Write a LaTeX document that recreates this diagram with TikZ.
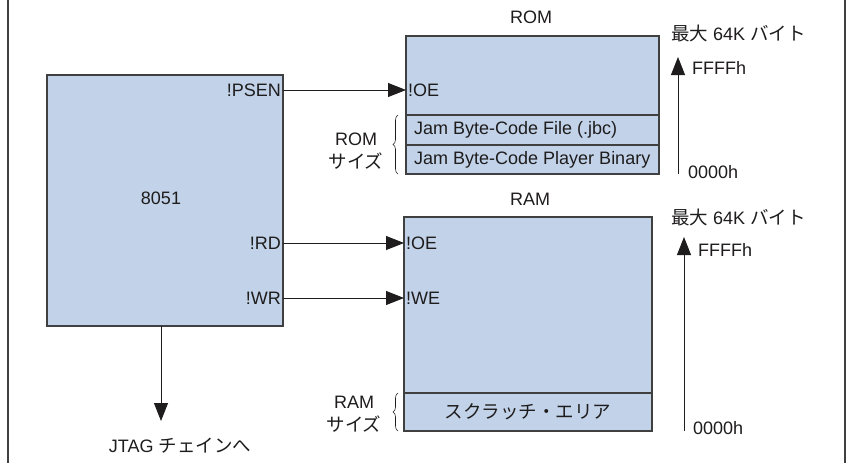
\documentclass[tikz,border=0pt]{standalone}
\usepackage{fontspec}
\setmainfont{Liberation Sans}
\newfontfamily\jp{Noto Sans CJK JP}
\usetikzlibrary{arrows.meta, decorations.pathreplacing}

\definecolor{memfill}{RGB}{194,211,233}
\definecolor{edgegray}{RGB}{64,64,64}
\definecolor{inkgray}{RGB}{30,28,28}

\newcommand{\jtxt}[1]{{\jp\fontsize{18.5pt}{24pt}\selectfont #1}}

\begin{document}
\begin{tikzpicture}[x=1pt, y=-1pt, font=\fontsize{18pt}{21pt}\selectfont, text=inkgray,
  block/.style={rectangle, draw=edgegray, line width=1.3pt, fill=memfill, inner sep=0pt, outer sep=0pt},
  pin/.style={inner sep=2pt},
  addr/.style={anchor=west, inner sep=0pt},
  sig/.style={draw=inkgray, line width=0.9pt, -{Triangle[length=18pt, width=14pt]}},
  sizebrace/.style={draw=inkgray, line width=0.6pt, decorate, decoration={brace, amplitude=5pt}}
]

\useasboundingbox (0,0) rectangle (846,463);
\draw[edgegray, line width=1.2pt] (8,0) -- (8,463);
\draw[edgegray, line width=1.2pt] (845,0) -- (845,463);

% 8051 controller
\node[block, minimum width=236pt, minimum height=251pt, anchor=north west] (cpu) at (47,75) {};
\node (cpuname) at (161,198) {8051};
\node[pin, anchor=east] (psen) at (283,90) {!PSEN};
\node[pin, anchor=east] (rd) at (283,243) {!RD};
\node[pin, anchor=east] (wr) at (283,298) {!WR};

% ROM
\node (romtitle) at (531,17) {ROM};
\node[block, minimum width=253pt, minimum height=79pt, anchor=north west] (romcell) at (406,36) {};
\node[block, minimum width=253pt, minimum height=30pt, anchor=north] (jbc) at (romcell.south) {};
\node[block, minimum width=253pt, minimum height=29pt, anchor=north] (player) at (jbc.south) {};
\node[pin, anchor=west] (romoe) at (406,90) {!OE};
\node[anchor=west, inner sep=8pt] (jbcname) at (jbc.west) {Jam Byte-Code File (.jbc)};
\node[anchor=west, inner sep=8pt] (playername) at (player.west) {Jam Byte-Code Player Binary};

\node (romsizetop) at (356,139) {ROM};
\node (romsizebot) at (356,161) {\jtxt{サイズ}};
\draw[sizebrace] ([xshift=-8pt]player.south west) -- ([xshift=-8pt]jbc.north west);

% RAM
\node (ramtitle) at (530,199) {RAM};
\node[block, minimum width=248pt, minimum height=176pt, anchor=north west] (ramcell) at (404,217) {};
\node[block, minimum width=248pt, minimum height=38pt, anchor=north] (scratch) at (ramcell.south) {};
\node[pin, anchor=west] (ramoe) at (404,243) {!OE};
\node[pin, anchor=west] (ramwe) at (404,298) {!WE};
\node (scratchname) at (scratch) {\jtxt{スクラッチ・エリア}};

\node (ramsizetop) at (354,402) {RAM};
\node (ramsizebot) at (354,424) {\jtxt{サイズ}};
\draw[sizebrace] ([xshift=-6pt]scratch.south west) -- ([xshift=-6pt]scratch.north west);

% control signals
\draw[sig] (psen.east) -- (romoe.west);
\draw[sig] (rd.east) -- (ramoe.west);
\draw[sig] (wr.east) -- (ramwe.west);

% to the JTAG chain
\coordinate (jtagtip) at (161,421);
\node (jtag) at (180,446) {JTAG \jtxt{チェインへ}};
\draw[sig] (cpu.south -| jtagtip) -- (jtagtip);

% address ranges
\node[addr] (rommax) at (671,33) {\jtxt{最大}\ 64K\ \jtxt{バイト}};
\coordinate (romlo) at (678,174);
\coordinate (romhi) at (678,57);
\draw[sig] (romlo) -- (romhi);
\node[addr] (romhiaddr) at (692,68) {FFFFh};
\node[addr] (romloaddr) at (688,172) {0000h};

\node[addr] (rammax) at (671,217) {\jtxt{最大}\ 64K\ \jtxt{バイト}};
\coordinate (ramlo) at (684,431);
\coordinate (ramhi) at (684,237);
\draw[sig] (ramlo) -- (ramhi);
\node[addr] (ramhiaddr) at (698,250) {FFFFh};
\node[addr] (ramloaddr) at (693,428) {0000h};

\end{tikzpicture}
\end{document}
